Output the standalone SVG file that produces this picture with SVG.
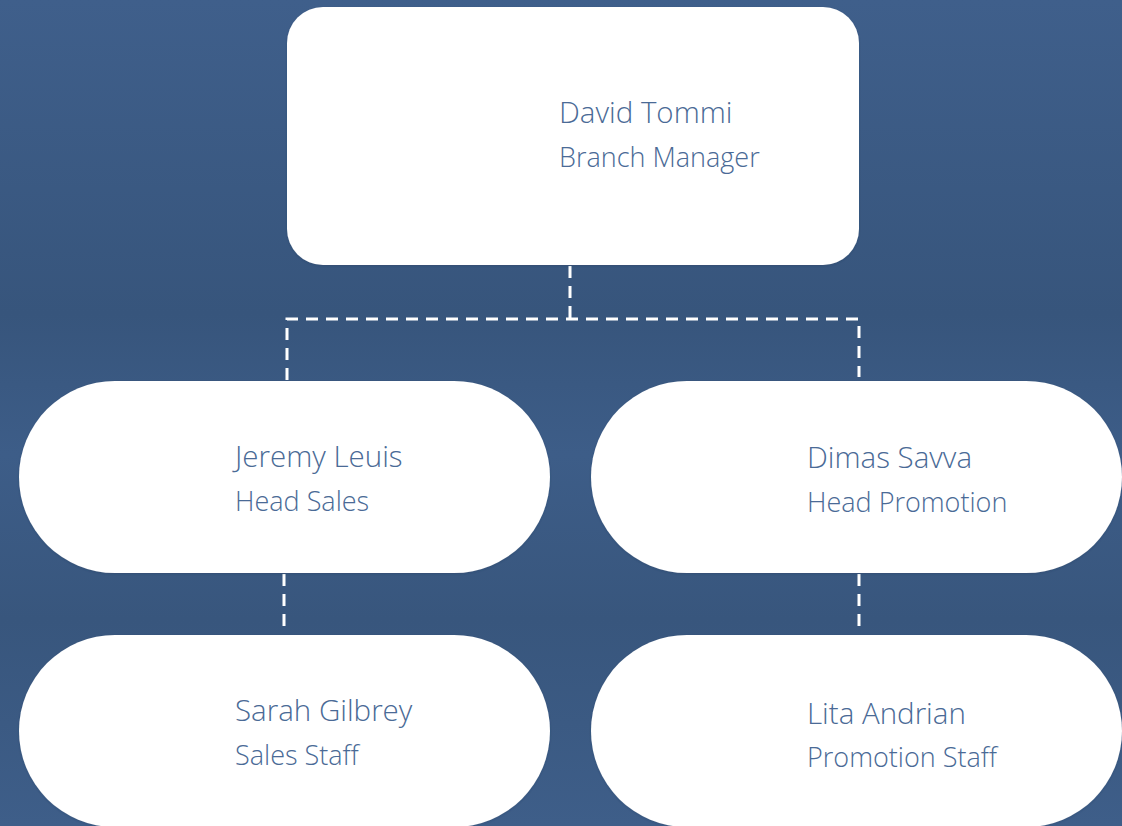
<svg xmlns="http://www.w3.org/2000/svg" width="1122" height="826" viewBox="0 0 1122 826">
<defs>
<linearGradient id="bg" x1="0" y1="0" x2="0" y2="1">
<stop offset="0" stop-color="#3f5f8b"/>
<stop offset="0.38" stop-color="#37557c"/>
<stop offset="0.55" stop-color="#3d5d88"/>
<stop offset="0.75" stop-color="#38567d"/>
<stop offset="1" stop-color="#3e5e89"/>
</linearGradient>
<filter id="sh" x="-10%" y="-10%" width="120%" height="130%">
<feDropShadow dx="0" dy="1" stdDeviation="1" flood-color="#1e3050" flood-opacity="0.25"/>
</filter>
<style>
.box{fill:#ffffff;filter:url(#sh)}
.name{font-family:"Open Sans","Noto Sans",sans-serif;font-weight:300;font-size:29.5px;fill:#4a6a96}
.role{font-family:"Open Sans","Noto Sans",sans-serif;font-weight:300;font-size:27px;fill:#4a6a96}
.conn{fill:none;stroke:#ffffff;stroke-width:3;stroke-dasharray:12 8}
</style>
</defs>
<rect width="1122" height="826" fill="url(#bg)"/>
<g id="connectors">
<path class="conn" d="M570,266 V318"/>
<path class="conn" d="M287,380 V319 H859 V377"/>
<path class="conn" d="M284,574 V632"/>
<path class="conn" d="M859,574 V630"/>
</g>
<g id="david">
<rect class="box" x="287" y="7" width="572" height="258" rx="36" ry="36"/>
<text class="name" x="559" y="123">David Tommi</text>
<text class="role" x="559" y="167">Branch Manager</text>
</g>
<g id="jeremy">
<rect class="box" x="19" y="381" width="531" height="192" rx="96" ry="96"/>
<text class="name" x="235" y="467">Jeremy Leuis</text>
<text class="role" x="235" y="511">Head Sales</text>
</g>
<g id="dimas">
<rect class="box" x="591" y="381" width="531" height="192" rx="96" ry="96"/>
<text class="name" x="807" y="468">Dimas Savva</text>
<text class="role" x="807" y="512">Head Promotion</text>
</g>
<g id="sarah">
<rect class="box" x="19" y="635" width="531" height="192" rx="96" ry="96"/>
<text class="name" x="235" y="721">Sarah Gilbrey</text>
<text class="role" x="235" y="765">Sales Staff</text>
</g>
<g id="lita">
<rect class="box" x="591" y="635" width="531" height="192" rx="96" ry="96"/>
<text class="name" x="807" y="724">Lita Andrian</text>
<text class="role" x="807" y="767">Promotion Staff</text>
</g>
</svg>
